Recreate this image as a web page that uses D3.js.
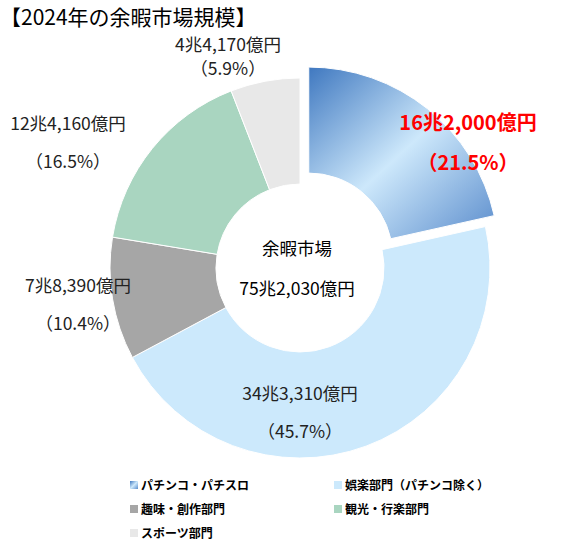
<!DOCTYPE html>
<html><head><meta charset="utf-8">
<script src="https://cdn.jsdelivr.net/npm/d3@7"></script>
<style>body{margin:0;background:#fff;font-family:"Noto Sans CJK JP",sans-serif}</style>
</head><body><svg id="chart" width="564" height="548"></svg>
<script>
// segment data (clockwise from 12 o'clock)
const categories = ["パチンコ・パチスロ", "娯楽部門（パチンコ除く）", "趣味・創作部門", "観光・行楽部門", "スポーツ部門"];
const shares = [21.5, 45.7, 10.4, 16.5, 5.9];
const amounts = ["16兆2,000億円", "34兆3,310億円", "7兆8,390億円", "12兆4,160億円", "4兆4,170億円"];
const colors = ["url(#pgrad)", "#cce9fc", "#a6a6a6", "#a9d5c0", "#e8e8e8"];

const svg = d3.select("#chart");
const cx = 300, cy = 268, outerR = 190, innerR = 84;

const defs = svg.append("defs");
const grad = defs.append("linearGradient").attr("id", "pgrad")
  .attr("x1", "0%").attr("y1", "0%").attr("x2", "100%").attr("y2", "100%");
grad.append("stop").attr("offset", "0%").attr("stop-color", "#3f78c0");
grad.append("stop").attr("offset", "50%").attr("stop-color", "#cde8fb");
grad.append("stop").attr("offset", "100%").attr("stop-color", "#5a8ccc");

svg.append("text").attr("x", 0).attr("y", 25).attr("font-size", 21).text("【2024年の余暇市場規模】");

const pie = d3.pie().sort(null).value(d => d)(shares);
const arc = d3.arc().innerRadius(innerR).outerRadius(outerR);
const g = svg.append("g").attr("transform", `translate(${cx},${cy})`);

g.selectAll("path").data(pie).join("path")
  .attr("d", arc)
  .attr("fill", (d, i) => colors[i])
  .attr("stroke", "#fff").attr("stroke-width", 1)
  .attr("transform", (d, i) => {
    if (i !== 0) return null;
    const a = (d.startAngle + d.endAngle) / 2;
    return `translate(${Math.sin(a) * 14},${-Math.cos(a) * 14})`;
  });

// label positions per segment
const labelPos = [[468, 130], [300, 400], [78, 292], [68, 130], [228, 51]];
labelPos.forEach((p, i) => {
  const big = i === 0;
  const t = svg.append("text").attr("text-anchor", "middle")
    .attr("font-size", big ? 20 : 17.5)
    .attr("font-weight", big ? "bold" : "normal")
    .attr("fill", big ? "#ff0000" : "#222");
  t.append("tspan").attr("x", p[0]).attr("y", p[1]).text(amounts[i]);
  t.append("tspan").attr("x", p[0]).attr("y", p[1] + (big ? 40 : (i === 4 ? 24 : 38)))
    .text(`（${shares[i].toFixed(1)}%）`);
});

svg.append("text").attr("x", 297).attr("y", 255).attr("text-anchor", "middle").attr("font-size", 17.5).text("余暇市場");
svg.append("text").attr("x", 297).attr("y", 295).attr("text-anchor", "middle").attr("font-size", 17.5).text("75兆2,030億円");

// legend
const legPos = [[130, 490], [334, 490], [130, 514], [334, 514], [130, 538]];
categories.forEach((c, i) => {
  const lg = svg.append("g").attr("transform", `translate(${legPos[i][0]},${legPos[i][1]})`);
  lg.append("rect").attr("x", 0).attr("y", -9).attr("width", 8).attr("height", 8).attr("fill", colors[i]);
  lg.append("text").attr("x", 11).attr("y", 0).attr("font-size", 12).attr("font-weight", "bold").text(c);
});
</script></body></html>
